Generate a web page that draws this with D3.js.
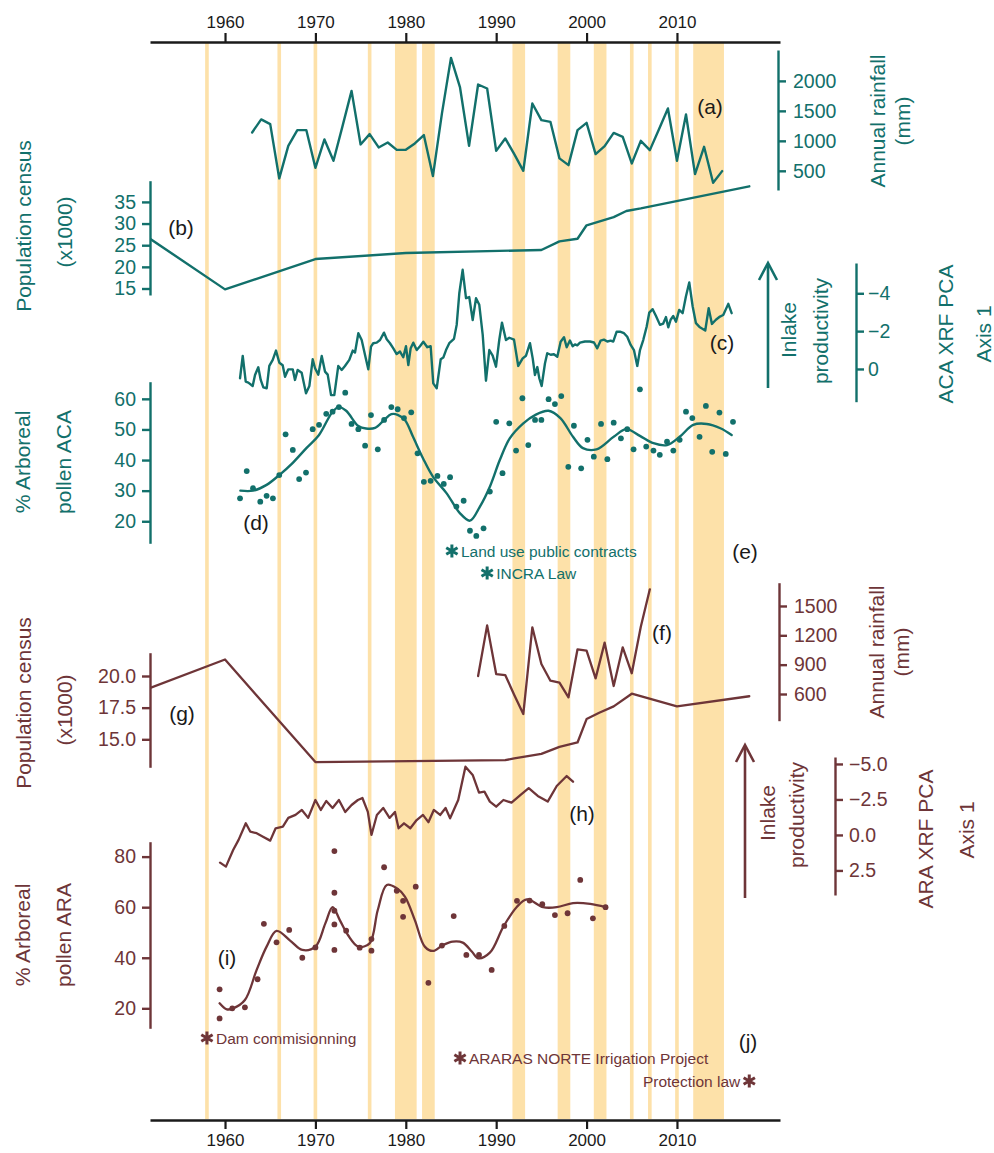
<!DOCTYPE html>
<html>
<head>
<meta charset="utf-8">
<script src="https://cdn.jsdelivr.net/npm/d3@7"></script>
<style>
  body { margin: 0; background: #fff; }
  svg { display: block; }
  text { font-family: "Liberation Sans", Arial, Helvetica, sans-serif; }
</style>
</head>
<body>
<svg id="chart" width="994" height="1153"></svg>
<script>
// ---------- shared time axis ----------
const yearTicks = [1960, 1970, 1980, 1990, 2000, 2010];
// shaded years (first, last)
const shadedYears = [[1958,1958],[1966,1966],[1970,1970],[1976,1976],[1979,1981],[1982,1983],
  [1992,1993],[1997,1998],[2001,2002],[2005,2005],[2007,2007],[2010,2010],[2012,2015]];

// ---------- ACA ----------
// (a) annual rainfall, mm
const acaRainYears = d3.range(1963, 2016);
const acaRain = [1140,1357,1278,373,917,1178,1178,550,1023,667,1245,1833,940,1112,890,973,850,850,957,1095,
  412,1457,2383,1890,917,1940,1873,833,1040,778,500,1623,1345,1317,707,595,1178,1300,778,912,
  1133,1067,623,1000,845,1190,1540,667,1440,445,900,300,495];
// (b) population census (x1000)
const acaPopYears = [1950, 1960, 1970, 1980, 1995, 1997, 1999, 2000, 2003, 2004.4, 2006, 2018];
const acaPop = [28.9, 14.8, 21.8, 23.2, 23.9, 25.9, 26.5, 29.6, 31.5, 32.9, 33.5, 38.6];
// (c) XRF PCA axis 1
const acaXrf = [[1961.66,0.49],[1961.96,-0.69],[1962.29,0.67],[1962.58,0.72],[1963.06,0.9],[1963.32,0.32],
  [1963.68,-0.09],[1963.95,0.58],[1964.24,0.97],[1964.61,1.02],[1964.9,-0.16],[1965.28,-0.48],[1965.64,-0.97],
  [1966.01,-0.33],[1966.38,-0.2],[1966.64,0.41],[1967.0,0.02],[1967.49,0.02],[1967.74,0.58],[1968.04,0.05],
  [1968.48,0.2],[1968.96,1.29],[1969.33,0.9],[1969.7,-0.51],[1969.96,-0.04],[1970.32,0.3],[1970.7,-0.69],
  [1971.06,0.14],[1971.36,0.3],[1971.73,1.38],[1972.09,1.38],[1972.53,-0.16],[1972.91,0.05],[1973.27,-0.16],
  [1973.75,-0.48],[1974.13,-0.97],[1974.38,-0.87],[1974.75,-1.89],[1975.12,-1.53],[1975.49,-0.74],[1975.85,0.02],
  [1976.15,-1.18],[1976.4,-1.36],[1976.78,-1.39],[1977.15,-1.53],[1977.59,-1.92],[1977.89,-1.57],[1978.25,-1.36],
  [1978.62,-1.09],[1978.99,-0.79],[1979.36,-0.92],[1979.72,-0.62],[1980.02,-1.2],[1980.28,-0.21],[1980.54,-1.1],
  [1980.83,-1.39],[1981.21,-1.0],[1981.57,-1.2],[1981.94,-1.44],[1982.38,-1.15],[1982.75,-1.2],[1983.04,0.76],
  [1983.42,1.02],[1983.86,-0.51],[1984.15,-0.6],[1984.45,-1.0],[1984.81,-1.36],[1985.33,-1.59],[1985.63,-2.33],
  [1985.92,-4.0],[1986.29,-5.24],[1986.66,-3.74],[1987.02,-3.8],[1987.4,-2.59],[1987.77,-3.74],[1988.13,-3.39],
  [1988.51,-1.8],[1988.87,0.62],[1989.24,-1.0],[1989.61,-0.7],[1989.98,-0.12],[1990.34,-1.53],[1990.64,-2.45],
  [1991.08,-1.53],[1991.45,-1.65],[1991.97,-1.55],[1992.44,-0.16],[1992.93,-0.56],[1993.3,-0.7],[1993.74,-1.36],
  [1994.04,-0.56],[1994.29,0.32],[1994.55,-0.1],[1994.77,0.49],[1995.03,0.9],[1995.4,-0.3],[1995.65,-0.83],
  [1996.03,-0.75],[1996.39,-0.78],[1996.76,-0.65],[1997.13,-1.44],[1997.5,-1.68],[1997.8,-1.15],[1998.16,-1.5],
  [1998.46,-1.2],[1998.72,-1.3],[1998.97,-1.25],[1999.27,-1.39],[1999.82,-1.45],[2000.38,-1.45],[2000.82,-1.4],
  [2001.18,-1.09],[2001.56,-1.5],[2001.92,-1.55],[2002.29,-1.45],[2002.67,-1.5],[2002.95,-1.45],[2003.33,-1.97],
  [2003.69,-1.97],[2004.14,-1.89],[2004.5,-1.7],[2004.88,-1.27],[2005.24,-1.0],[2005.61,-0.16],[2005.91,-1.0],
  [2006.27,-1.53],[2006.65,-2.24],[2006.94,-2.98],[2007.31,-3.16],[2007.68,-2.8],[2008.12,-2.33],[2008.48,-2.4],
  [2008.78,-2.74],[2009.04,-2.2],[2009.3,-2.6],[2009.59,-2.8],[2009.89,-2.5],[2010.25,-3.12],[2010.63,-2.95],
  [2010.99,-3.83],[2011.36,-4.57],[2011.74,-3.3],[2012.1,-2.42],[2012.54,-2.2],[2013.13,-2.03],[2013.51,-3.21],
  [2013.87,-2.38],[2014.31,-2.6],[2014.76,-2.77],[2015.12,-2.85],[2015.68,-3.44],[2016.05,-2.95]];
// (d) % arboreal pollen, samples and smoothed trend
const acaPollen = [[1961.66,27.5],[1962.4,36.4],[1963.1,30.8],[1963.9,26.4],[1964.6,28.3],[1965.3,27.5],
  [1966.0,35.1],[1966.7,48.4],[1967.5,43.3],[1968.2,33.8],[1968.96,35.9],[1969.7,50.1],[1970.4,51.5],
  [1971.2,55.1],[1971.9,55.8],[1972.6,57.3],[1973.3,62.0],[1974.0,51.8],[1974.75,50.1],[1975.5,44.7],
  [1976.15,54.7],[1976.9,43.5],[1977.6,53.1],[1978.4,57.3],[1979.1,56.6],[1979.8,53.7],[1980.6,55.6],
  [1981.3,42.2],[1982.0,32.9],[1982.75,33.2],[1983.5,34.8],[1984.2,32.2],[1984.9,34.4],[1985.6,24.8],
  [1986.4,26.7],[1987.1,16.9],[1987.8,15.2],[1988.6,17.7],[1989.3,29.7],[1990.0,52.5],[1990.7,35.7],
  [1991.45,52.0],[1992.2,43.1],[1992.9,60.2],[1993.55,44.9],[1994.3,53.1],[1995.0,53.1],[1995.8,59.9],
  [1996.5,58.3],[1997.2,60.9],[1997.98,37.8],[1998.6,51.2],[1999.4,37.3],[2000.1,46.6],[2000.8,41.1],
  [2001.6,51.8],[2002.3,40.3],[2003.0,52.2],[2003.8,47.1],[2004.5,50.1],[2005.2,43.5],[2005.9,63.1],
  [2006.6,44.4],[2007.4,43.1],[2008.1,41.7],[2008.9,46.0],[2009.6,43.1],[2010.3,46.6],[2011.0,55.8],
  [2011.7,53.7],[2012.5,47.6],[2013.2,57.7],[2013.9,42.7],[2014.7,55.5],[2015.4,42.0],[2016.2,52.5]];
const acaPollenTrend = [[1961.7,30.0],[1963.1,30.0],[1964.6,31.9],[1966.0,35.1],[1967.5,39.1],[1969.0,43.9],
  [1970.4,48.2],[1971.9,55.8],[1972.6,57.3],[1973.4,56.1],[1974.75,51.1],[1975.6,50.3],[1976.6,50.5],
  [1977.6,53.1],[1978.4,55.0],[1979.1,54.8],[1979.9,53.1],[1980.8,47.6],[1981.9,40.6],[1983.0,34.6],
  [1984.5,29.2],[1986.0,22.6],[1987.1,20.2],[1988.2,24.8],[1989.3,31.3],[1990.4,40.0],[1991.5,47.1],
  [1993.0,52.0],[1994.3,54.7],[1995.8,56.1],[1997.1,53.7],[1998.5,47.6],[1999.6,43.9],[2001.1,43.5],
  [2003.0,47.6],[2004.4,50.1],[2005.9,47.9],[2007.4,45.5],[2008.9,44.9],[2010.3,47.6],[2011.8,51.5],
  [2013.3,51.8],[2014.8,50.4],[2016.05,48.2]];
const acaEvents = [
  { year: 1985.1, label: "Land use public contracts" },
  { year: 1989.0, label: "INCRA Law" }
];

// ---------- ARA ----------
// (f) annual rainfall, mm
const araRainYears = d3.range(1988, 2008);
const araRain = [784,1302,804,794,590,395,1282,907,736,716,566,1057,1043,760,1125,682,1077,812,1288,1670];
// (g) population census (x1000)
const araPopYears = [1950, 1960, 1970, 1991, 1992, 1995, 1997, 1999, 2000, 2001.4, 2003, 2005, 2010, 2018];
const araPop = [18.6, 21.3, 13.2, 13.35, 13.5, 13.85, 14.4, 14.75, 16.6, 17.1, 17.6, 18.6, 17.6, 18.4];
// (h) XRF PCA axis 1
const araXrf = [[1959.45,1.95],[1960.1,2.23],[1960.9,1.06],[1961.5,0.35],[1962.3,-0.82],[1962.8,-0.23],
  [1963.5,-0.12],[1964.2,0.12],[1965.0,0.4],[1965.6,-0.47],[1966.4,-0.58],[1967.0,-1.2],[1967.8,-1.41],
  [1968.5,-1.76],[1969.2,-1.2],[1970.0,-2.46],[1970.6,-1.76],[1971.2,-2.39],[1971.9,-1.9],[1972.6,-2.46],
  [1973.3,-1.62],[1974.0,-2.11],[1974.7,-2.46],[1975.2,-2.6],[1975.8,-1.62],[1976.2,0.0],[1976.8,-1.41],
  [1977.5,-1.9],[1978.2,-1.2],[1978.8,-1.62],[1979.2,-0.47],[1979.8,-0.82],[1980.5,-0.47],[1981.2,-1.05],
  [1981.9,-1.41],[1982.5,-0.9],[1983.1,-1.76],[1983.8,-1.41],[1984.4,-1.9],[1984.9,-1.17],[1985.8,-2.46],
  [1986.6,-4.81],[1987.4,-4.23],[1988.1,-2.98],[1988.7,-3.05],[1989.3,-2.35],[1990.0,-1.99],[1990.8,-2.46],
  [1991.7,-2.27],[1992.7,-2.82],[1993.6,-3.29],[1994.6,-2.75],[1995.7,-2.35],[1996.7,-3.45],[1997.8,-4.15],
  [1998.5,-3.75]];
// (i) % arboreal pollen, samples and smoothed trend
const araPollen = [[1959.4,27.5],[1959.4,16.0],[1960.8,20.0],[1962.2,20.4],[1963.6,31.5],[1964.3,53.4],
  [1965.7,46.1],[1967.1,51.0],[1968.55,40.0],[1970.0,44.1],[1972.1,82.2],[1972.1,65.7],[1972.1,58.6],
  [1972.1,53.2],[1972.1,43.1],[1973.4,50.7],[1974.9,44.0],[1976.2,47.4],[1976.2,42.8],[1977.6,75.8],
  [1979.0,66.5],[1979.7,62.5],[1979.7,56.2],[1981.1,68.1],[1982.5,30.1],[1984.0,44.8],[1985.3,56.5],
  [1986.7,41.1],[1988.1,41.1],[1989.5,35.2],[1990.9,52.6],[1992.3,62.5],[1993.7,62.6],[1995.1,61.2],
  [1996.5,56.9],[1997.9,57.6],[1999.3,70.8],[2000.7,55.6],[2002.1,60.0]];
const araPollenTrend = [[1959.4,22.0],[1960.2,19.6],[1960.9,20.0],[1962.2,23.3],[1963.5,35.2],[1964.6,44.4],
  [1965.7,50.6],[1967.2,46.8],[1968.55,43.1],[1970.0,44.4],[1971.1,53.6],[1971.9,60.0],[1972.7,54.9],
  [1973.6,49.0],[1974.75,44.4],[1976.0,45.7],[1976.9,58.9],[1977.9,68.8],[1979.0,67.5],[1979.9,64.2],
  [1981.0,54.9],[1982.1,44.4],[1983.0,42.7],[1984.1,45.0],[1985.2,46.4],[1986.3,46.0],[1987.3,42.5],
  [1988.0,39.8],[1989.3,42.0],[1990.8,52.3],[1992.3,60.2],[1993.4,63.1],[1995.2,60.0],[1996.7,60.0],
  [1998.5,61.6],[2000.4,61.3],[2002.1,60.0]];
const araEvents = [
  { year: 1958.0, label: "Dam commisionning", side: "right" },
  { year: 1986.0, label: "ARARAS NORTE Irrigation Project", side: "right" },
  { year: 2018.0, label: "Protection law", side: "left" }
];

// ---------- drawing ----------
const TEAL = "#12706b", BROWN = "#6e3538", BAND = "#fde1a9", INK = "#1a1a1a";
const FONT = '"Liberation Sans", Arial, Helvetica, sans-serif';
const svg = d3.select("#chart");

const x = d3.scaleLinear().domain([1951.7, 2021.4]).range([150, 780]);
const plotTop = 43, plotBottom = 1119;

svg.append("defs").append("clipPath").attr("id", "plotClip")
  .append("rect").attr("x", x.range()[0]).attr("y", 0)
  .attr("width", x.range()[1] - x.range()[0]).attr("height", 1153);

// shaded years
svg.append("g").selectAll("rect").data(shadedYears).join("rect")
  .attr("x", d => x(d[0] - 0.2))
  .attr("width", d => x(d[1] + 0.2) - x(d[0] - 0.2))
  .attr("y", plotTop).attr("height", plotBottom - plotTop)
  .attr("fill", BAND);

// vertical scales for each panel
const yRainA = d3.scaleLinear().domain([180, 2515]).range([190, 50]);
const yPopB  = d3.scaleLinear().domain([13.5, 39.9]).range([295, 180.7]);
const yXrfC  = d3.scaleLinear().domain([1.73, -5.6]).range([401.7, 263]);
const yPolD  = d3.scaleLinear().domain([12.8, 65.6]).range([543.3, 381.7]);
const yRainF = d3.scaleLinear().domain([327, 1738]).range([720.7, 582.7]);
const yPopG  = d3.scaleLinear().domain([12.79, 21.84]).range([767.3, 652.7]);
const yXrfH  = d3.scaleLinear().domain([4.23, -5.49]).range([895, 757]);
const yPolI  = d3.scaleLinear().domain([12.1, 85.9]).range([1028.3, 841.7]);

function drawLine(pairs, y, color, width, curve) {
  const line = d3.line().x(d => x(d[0])).y(d => y(d[1])).curve(curve || d3.curveLinear);
  svg.append("path").datum(pairs)
    .attr("clip-path", "url(#plotClip)")
    .attr("d", line).attr("fill", "none")
    .attr("stroke", color).attr("stroke-width", width)
    .attr("stroke-linejoin", "round").attr("stroke-linecap", "round");
}
function drawDots(pairs, y, color) {
  svg.append("g").selectAll("circle").data(pairs).join("circle")
    .attr("cx", d => x(d[0])).attr("cy", d => y(d[1])).attr("r", 2.9).attr("fill", color);
}
const zip = (a, b) => a.map((v, i) => [v, b[i]]);

// ACA series
drawLine(zip(acaRainYears, acaRain), yRainA, TEAL, 2.4);
drawLine(zip(acaPopYears, acaPop), yPopB, TEAL, 2.4);
drawLine(acaXrf, yXrfC, TEAL, 2.4);
drawDots(acaPollen, yPolD, TEAL);
drawLine(acaPollenTrend, yPolD, TEAL, 2.4, d3.curveCatmullRom.alpha(0.5));

// ARA series
drawLine(zip(araRainYears, araRain), yRainF, BROWN, 2.3);
drawLine(zip(araPopYears, araPop), yPopG, BROWN, 2.3);
drawLine(araXrf, yXrfH, BROWN, 2.3);
drawDots(araPollen, yPolI, BROWN);
drawLine(araPollenTrend, yPolI, BROWN, 2.3, d3.curveCatmullRom.alpha(0.5));

// axes
function styleAxis(g, color, size) {
  g.attr("font-family", FONT).attr("font-size", size);
  g.select(".domain").attr("stroke", color).attr("stroke-width", 2.4);
  g.selectAll(".tick line").attr("stroke", color).attr("stroke-width", 2.4);
  g.selectAll(".tick text").attr("fill", color);
}
function rightAxis(y, ticks, fmt, xPos, color, pad) {
  const g = svg.append("g").attr("transform", `translate(${xPos},0)`)
    .call(d3.axisRight(y).tickValues(ticks).tickFormat(d3.format(fmt)).tickSize(8).tickSizeOuter(0).tickPadding(pad));
  styleAxis(g, color, 19.5);
}
function leftAxis(y, ticks, fmt, color) {
  const g = svg.append("g").attr("transform", `translate(150,0)`)
    .call(d3.axisLeft(y).tickValues(ticks).tickFormat(d3.format(fmt)).tickSize(8).tickSizeOuter(0).tickPadding(6));
  styleAxis(g, color, 19.5);
}
rightAxis(yRainA, [500, 1000, 1500, 2000], "d", 778, TEAL, 7);
leftAxis(yPopB, [15, 20, 25, 30, 35], "d", TEAL);
rightAxis(yXrfC, [-4, -2, 0], "d", 856, TEAL, 4);
leftAxis(yPolD, [20, 30, 40, 50, 60], "d", TEAL);
rightAxis(yRainF, [600, 900, 1200, 1500], "d", 779, BROWN, 7);
leftAxis(yPopG, [15, 17.5, 20], ".1f", BROWN);
rightAxis(yXrfH, [-5, -2.5, 0, 2.5], ".1f", 835, BROWN, 6);
leftAxis(yPolI, [20, 40, 60, 80], "d", BROWN);

// time axes
function timeAxis(axisFn, yPos) {
  const g = svg.append("g").attr("transform", `translate(0,${yPos})`)
    .call(axisFn(x).tickValues(yearTicks).tickFormat(d3.format("d")).tickSize(9).tickSizeOuter(0).tickPadding(5));
  g.attr("font-family", FONT).attr("font-size", 17);
  g.select(".domain").attr("stroke", INK).attr("stroke-width", 2.4);
  g.selectAll(".tick line").attr("stroke", INK).attr("stroke-width", 2.2);
  g.selectAll(".tick text").attr("fill", INK);
}
timeAxis(d3.axisTop, 42);
timeAxis(d3.axisBottom, 1120);

// rotated axis titles
function vTitle(str, cx, cy, color, size) {
  svg.append("text").attr("transform", `translate(${cx},${cy}) rotate(-90)`)
    .attr("text-anchor", "middle").attr("dominant-baseline", "central")
    .attr("font-size", size).attr("fill", color).text(str);
}
vTitle("Annual rainfall", 877, 121, TEAL, 21);
vTitle("(mm)", 902, 121, TEAL, 21);
vTitle("Population census", 23, 226, TEAL, 21);
vTitle("(x1000)", 64, 232, TEAL, 21);
vTitle("Inlake", 788, 330, TEAL, 21);
vTitle("productivity", 820, 331, TEAL, 21);
vTitle("ACA XRF PCA", 945, 334, TEAL, 21);
vTitle("Axis 1", 983, 334, TEAL, 21);
vTitle("% Arboreal", 22, 462, TEAL, 21);
vTitle("pollen ACA", 63, 462, TEAL, 21);

vTitle("Annual rainfall", 876, 652, BROWN, 21);
vTitle("(mm)", 901, 652, BROWN, 21);
vTitle("Population census", 23, 703, BROWN, 21);
vTitle("(x1000)", 64, 710, BROWN, 21);
vTitle("Inlake", 767, 813, BROWN, 21);
vTitle("productivity", 796, 815, BROWN, 21);
vTitle("ARA XRF PCA", 925, 839, BROWN, 21);
vTitle("Axis 1", 966, 830, BROWN, 21);
vTitle("% Arboreal", 22, 935, BROWN, 21);
vTitle("pollen ARA", 63, 935, BROWN, 21);

// productivity arrows
function upArrow(ax, yTop, yBottom, color) {
  svg.append("line").attr("x1", ax).attr("x2", ax).attr("y1", yBottom).attr("y2", yTop + 1)
    .attr("stroke", color).attr("stroke-width", 2.6);
  svg.append("polyline")
    .attr("points", `${ax - 9},${yTop + 17} ${ax},${yTop} ${ax + 9},${yTop + 17}`)
    .attr("fill", "none").attr("stroke", color).attr("stroke-width", 2.6).attr("stroke-linejoin", "miter");
}
upArrow(768, 263, 388, TEAL);
upArrow(745, 745, 898, BROWN);

// panel letters
const letters = [["(a)", 710, 106], ["(b)", 181, 227], ["(c)", 722, 342], ["(d)", 256, 522], ["(e)", 745, 551],
  ["(f)", 662, 632], ["(g)", 182, 713], ["(h)", 582, 813], ["(i)", 227, 957], ["(j)", 748, 1041]];
svg.append("g").selectAll("text").data(letters).join("text")
  .attr("x", d => d[1]).attr("y", d => d[2]).attr("text-anchor", "middle")
  .attr("dominant-baseline", "central").attr("font-size", 21).attr("fill", INK).text(d => d[0]);

// events
const star = d3.symbol().type(d3.symbolAsterisk).size(120);
function drawEvents(events, rows, color) {
  events.forEach((ev, i) => {
    const sx = x(ev.year), sy = rows[i];
    svg.append("path").attr("d", star).attr("transform", `translate(${sx},${sy})`)
      .attr("fill", "none").attr("stroke", color).attr("stroke-width", 3);
    svg.append("text")
      .attr("x", ev.side === "left" ? sx - 9 : sx + 9).attr("y", sy)
      .attr("text-anchor", ev.side === "left" ? "end" : "start")
      .attr("dominant-baseline", "central")
      .attr("font-size", 15.5).attr("fill", color).text(ev.label);
  });
}
drawEvents(acaEvents, [551, 573], TEAL);
drawEvents(araEvents, [1038, 1058, 1081], BROWN);
</script>
</body>
</html>
